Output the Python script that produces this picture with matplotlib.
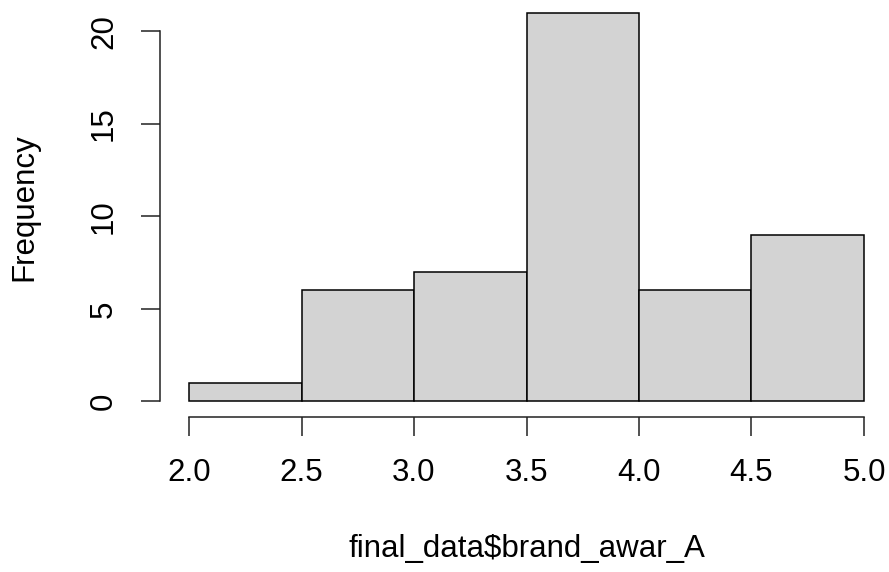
import numpy as np
import matplotlib
matplotlib.use('Agg')
import matplotlib.pyplot as plt

plt.rcParams['font.family'] = ['Liberation Sans', 'DejaVu Sans']

# histogram data
edges = [2.0, 2.5, 3.0, 3.5, 4.0, 4.5, 5.0]
counts = [1, 6, 7, 21, 6, 9]
xticks = [2.0, 2.5, 3.0, 3.5, 4.0, 4.5, 5.0]
xticklabels = ['2.0', '2.5', '3.0', '3.5', '4.0', '4.5', '5.0']
yticks = [0, 5, 10, 15, 20]

W, H = 889, 572
fig = plt.figure(figsize=(W/100, H/100), dpi=100)
# plot region in pixels: left 160, right 893, bottom 417, top -3
ax = fig.add_axes([160/W, (H-417)/H, (893-160)/W, (417+3)/H])

ax.bar(edges[:-1], counts, width=np.diff(edges), align='edge',
       color='#D3D3D3', edgecolor='black', linewidth=1.1)

ax.set_xlim(1.871, 5.129)
ax.set_ylim(-0.84, 21.84)

for s in ['top', 'right']:
    ax.spines[s].set_visible(False)
ax.spines['left'].set_bounds(0, 20)
ax.spines['bottom'].set_bounds(2.0, 5.0)
for s in ['left', 'bottom']:
    ax.spines[s].set_linewidth(1.1)
    ax.spines[s].set_color('#222222')

ax.set_xticks(xticks)
ax.set_xticklabels(xticklabels)
ax.set_yticks(yticks)
ax.set_yticklabels([str(v) for v in yticks], rotation=90, va='center')
ax.tick_params(axis='both', length=13.5, width=1.1, color='#222222',
               labelsize=22.5, pad=16)

ax.set_xlabel('final_data$brand_awar_A', fontsize=22.5, labelpad=33)
ax.set_ylabel('Frequency', fontsize=22.5, labelpad=36)

fig.savefig('out.png', dpi=100)
